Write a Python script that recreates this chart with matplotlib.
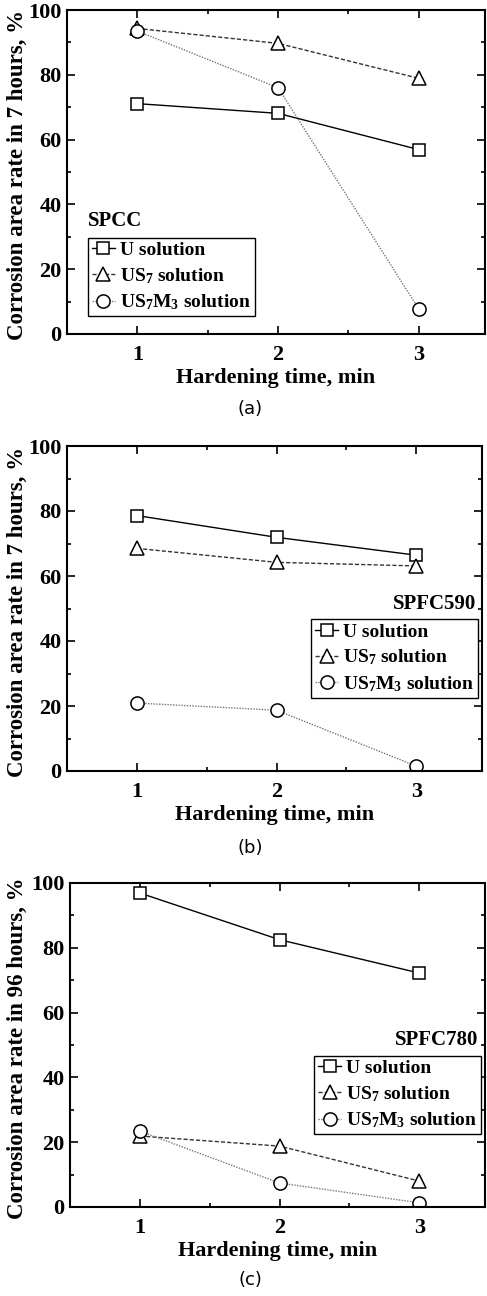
import numpy as np
import matplotlib
matplotlib.use("Agg")
import matplotlib.pyplot as plt
from matplotlib.ticker import MultipleLocator

plt.rcParams['font.family'] = ['Liberation Serif', 'DejaVu Serif']
plt.rcParams['font.weight'] = 'bold'
plt.rcParams['mathtext.fontset'] = 'custom'
plt.rcParams['mathtext.rm'] = 'Liberation Serif:bold'
plt.rcParams['mathtext.bf'] = 'Liberation Serif:bold'
plt.rcParams['mathtext.it'] = 'Liberation Serif:bold'

# ---- data ----
hardening_time = [1, 2, 3]

spcc_u = [71.1, 68.1, 56.9]
spcc_us7 = [94.3, 89.7, 78.9]
spcc_us7m3 = [93.5, 76.0, 7.7]

spfc590_u = [78.6, 71.9, 66.4]
spfc590_us7 = [68.5, 64.2, 63.1]
spfc590_us7m3 = [20.9, 18.7, 1.5]

spfc780_u = [96.9, 82.5, 72.2]
spfc780_us7 = [21.9, 18.8, 8.0]
spfc780_us7m3 = [23.4, 7.4, 1.3]

series_labels = ["U solution", r"US$_{7}$ solution", r"US$_{7}$M$_{3}$ solution"]
panel_names = ["SPCC", "SPFC590", "SPFC780"]
panel_tags = ["(a)", "(b)", "(c)"]
ylabels = ["Corrosion area rate in 7 hours, %",
           "Corrosion area rate in 7 hours, %",
           "Corrosion area rate in 96 hours, %"]

W, H = 487, 1296
fig = plt.figure(figsize=(W / 100, H / 100), dpi=100)


def px_axes(left, right, top, bottom):
    return fig.add_axes([left / W, 1 - bottom / H, (right - left) / W, (bottom - top) / H])


# pixel boxes of the three panels
boxes = [(67, 485, 10, 334), (67, 482, 446, 771), (70, 485, 883, 1207)]
tag_y = [409, 848, 1280]

styles = [
    dict(marker='s', linestyle='-', color='black', ms=8.5),
    dict(marker='^', linestyle=(0, (3, 1.5)), color='#333333', ms=10),
    dict(marker='o', linestyle=(0, (1, 1)), color='#777777', ms=9.5),
]

data = [
    (spcc_u, spcc_us7, spcc_us7m3),
    (spfc590_u, spfc590_us7, spfc590_us7m3),
    (spfc780_u, spfc780_us7, spfc780_us7m3),
]

for i, (box, series) in enumerate(zip(boxes, data)):
    ax = px_axes(*box)
    handles = []
    for vals, st, lab in zip(series, styles, series_labels):
        h, = ax.plot(hardening_time, vals, linestyle=st['linestyle'], color=st['color'],
                     linewidth=1.0, marker=st['marker'], markersize=st['ms'],
                     markerfacecolor='white', markeredgecolor='black',
                     markeredgewidth=1.1, label=lab)
        handles.append(h)

    ax.set_xlim(0.5, 3.47)
    ax.set_ylim(0, 100)
    ax.xaxis.set_major_locator(MultipleLocator(1))
    ax.xaxis.set_minor_locator(MultipleLocator(0.5))
    ax.yaxis.set_major_locator(MultipleLocator(20))
    ax.yaxis.set_minor_locator(MultipleLocator(10))
    ax.tick_params(which='both', direction='in', top=True, right=True, width=1.2)
    ax.tick_params(which='major', length=6, labelsize=16)
    ax.tick_params(axis='x', which='major', pad=8)
    ax.tick_params(axis='y', which='major', pad=4)
    ax.tick_params(which='minor', length=3)
    for sp in ax.spines.values():
        sp.set_linewidth(1.5)
    for lab in ax.get_xticklabels() + ax.get_yticklabels():
        lab.set_fontweight('bold')

    ax.set_xlabel("Hardening time, min", fontsize=16, fontweight='bold', labelpad=2)
    ax.set_ylabel(ylabels[i], fontsize=16.5, fontweight='bold')
    # right edge of the rotated label sits just left of the tick labels
    ax.yaxis.set_label_coords((28 - box[0]) / (box[1] - box[0]), 0.49)

    if i == 0:
        leg = ax.legend(handles=handles, loc='lower left', bbox_to_anchor=(0.05, 0.055),
                        fontsize=14, handlelength=1.2, handletextpad=0.25,
                        borderpad=0.2, labelspacing=0.35, borderaxespad=0,
                        fancybox=False, framealpha=1, edgecolor='black')
        ax.text(0.05, 0.35, panel_names[i], transform=ax.transAxes, fontsize=15,
                fontweight='bold', ha='left', va='center')
    else:
        leg = ax.legend(handles=handles, loc='lower right', bbox_to_anchor=(0.99, 0.225),
                        fontsize=14, handlelength=1.2, handletextpad=0.25,
                        borderpad=0.2, labelspacing=0.35, borderaxespad=0,
                        fancybox=False, framealpha=1, edgecolor='black')
        ax.text(0.985, 0.515, panel_names[i], transform=ax.transAxes, fontsize=15,
                fontweight='bold', ha='right', va='center')
    leg.get_frame().set_linewidth(1.0)
    for t in leg.get_texts():
        t.set_fontweight('bold')

    fig.text(250 / W, 1 - tag_y[i] / H, panel_tags[i], ha='center', va='center',
             fontsize=13, fontweight='normal', family='DejaVu Sans')

fig.savefig("out.png", dpi=100)
